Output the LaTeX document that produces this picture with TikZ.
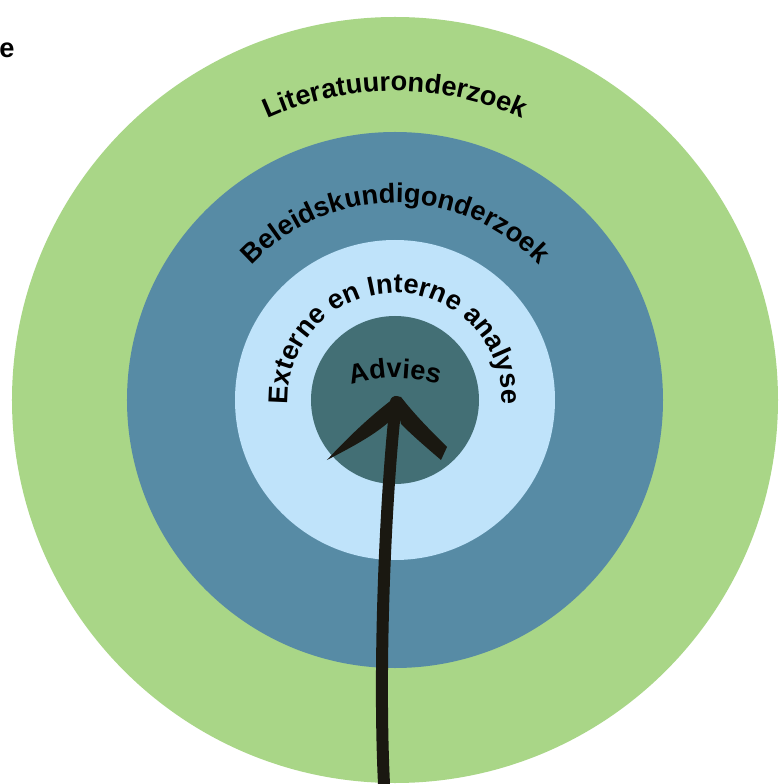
\documentclass[tikz,border=0pt]{standalone}
\usepackage{fontspec}
\setmainfont{Liberation Sans}
\usetikzlibrary{decorations.text}
\definecolor{ringgreen}{RGB}{169,214,135}
\definecolor{ringblue}{RGB}{87,139,165}
\definecolor{ringlight}{RGB}{191,227,250}
\definecolor{ringteal}{RGB}{67,111,117}
\definecolor{arrowink}{RGB}{26,24,17}
\newcommand{\ringlabel}{\fontsize{15.5pt}{18pt}\selectfont\bfseries}
\tikzset{
  ringtext/.style={decoration={text along path,text align=center,text={|\ringlabel|#1}},decorate},
  brush/.style={draw=arrowink,line width=0.24cm,line cap=round}
}

\begin{document}
\begin{tikzpicture}[x=0.02cm,y=0.02cm]
\useasboundingbox (-395,-384) rectangle (385,400);
% rings
\fill[ringgreen] (0,0) circle[radius=383];
\fill[ringblue] (0,0) circle[radius=268];
\fill[ringlight] (0,0) circle[radius=160];
\fill[ringteal] (0,0) circle[radius=84];
% ring texts
\path[ringtext={Literatuuronderzoek}] (150:309) arc[start angle=150,end angle=30,radius=309];
\path[ringtext={Beleidskundigonderzoek}] (150:197) arc[start angle=150,end angle=30,radius=197];
\path[ringtext={Externe en Interne analyse}] (200:107) arc[start angle=200,end angle=-20,radius=107];
\path[ringtext={Advies}] (-75,2) arc[start angle=120,end angle=60,radius=150];
% cut off word, top left
\node[anchor=base west,inner sep=0pt,font=\ringlabel] (cutword) at (-396,342) {e};
% arrow
\coordinate (tail) at (-11,-384);
\coordinate (tip) at (1,-2);
\draw[brush] (tail) .. controls (-17,-260) and (-9,-90) .. (tip);
\fill[arrowink] (2,4) .. controls (-20,-12) and (-45,-35) .. (-68,-60) .. controls (-45,-48) and (-20,-35) .. (-4,-20) -- cycle; % left barb
\fill[arrowink] (0,4) -- (6,3) .. controls (20,-15) and (35,-30) .. (52,-47) -- (46,-60) .. controls (32,-48) and (18,-36) .. (6,-24) -- cycle; % right barb
\end{tikzpicture}
\end{document}
